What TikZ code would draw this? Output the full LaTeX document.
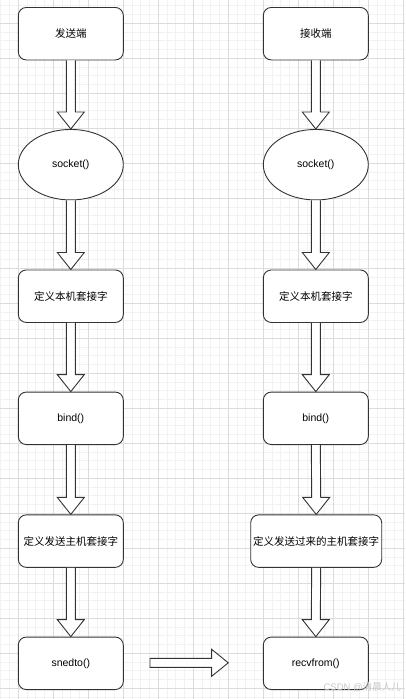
\documentclass[tikz,border=0pt]{standalone}
\usepackage{fontspec}
\setmainfont{Liberation Sans}
\newfontfamily\cjk{Noto Sans CJK SC}
\usetikzlibrary{calc,shapes.geometric}
\definecolor{lineclr}{HTML}{333333}
\definecolor{gridmajor}{HTML}{DCDCDC}
\definecolor{gridminor}{HTML}{F2F2F2}
\tikzset{
  box/.style={draw=lineclr, line width=0.9pt, rounded corners=8pt, fill=white,
    minimum width=105pt, minimum height=52.5pt, inner sep=0pt, align=center,
    font=\fontsize{10.5pt}{13pt}\selectfont},
  widebox/.style={box, minimum width=131pt},
  oval/.style={draw=lineclr, line width=0.9pt, ellipse, fill=white,
    minimum width=105pt, minimum height=70.5pt, inner sep=0pt,
    font=\fontsize{10.5pt}{13pt}\selectfont},
  blockarrow/.style={draw=lineclr, line width=0.9pt, fill=white, line join=miter},
  gmaj/.style={draw=gridmajor, line width=0.8pt},
  gmin/.style={draw=gridminor, line width=0.8pt}
}
\newcommand\varrow[2]{%
  \draw[blockarrow] ($(#1.south)+(-4.5,0)$) -- ($(#2.north)+(-4.5,-17)$) -- ($(#2.north)+(-13.5,-17)$) -- (#2.north) -- ($(#2.north)+(13.5,-17)$) -- ($(#2.north)+(4.5,-17)$) -- ($(#1.south)+(4.5,0)$);}
\begin{document}
\begin{tikzpicture}[x=1pt,y=-1pt]
\useasboundingbox (0,0) rectangle (405,699);
\fill[white] (0,0) rectangle (405,699);
% grid
\foreach \i in {-3,...,46} {\draw[gmin] ({18.3+8.75*\i},0) -- ({18.3+8.75*\i},699);}
\foreach \j in {-3,...,78} {\draw[gmin] (0,{23.3+8.75*\j}) -- (405,{23.3+8.75*\j});}
\foreach \i in {-1,...,11} {\draw[gmaj] ({18.3+35*\i},0) -- ({18.3+35*\i},699);}
\foreach \j in {-1,...,19} {\draw[gmaj] (0,{23.3+35*\j}) -- (405,{23.3+35*\j});}
% left column
\node[box] (s1) at (70.8,33.7) {\cjk 发送端};
\node[oval] (s2) at (70.8,164.7) {socket()};
\node[box] (s3) at (70.8,296.2) {\cjk 定义本机套接字};
\node[box] (s4) at (70.8,418.3) {bind()};
\node[box] (s5) at (70.8,541.1) {\cjk 定义发送主机套接字};
\node[box] (s6) at (70.8,663.3) {snedto()};
% right column
\node[box] (r1) at (315.8,33.7) {\cjk 接收端};
\node[oval] (r2) at (315.8,164.7) {socket()};
\node[box] (r3) at (315.8,296.2) {\cjk 定义本机套接字};
\node[box] (r4) at (315.8,418.3) {bind()};
\node[widebox] (r5) at (316.2,541.1) {\cjk 定义发送过来的主机套接字};
\node[box] (r6) at (315.8,663.3) {recvfrom()};
% vertical arrows
\varrow{s1}{s2}
\varrow{s2}{s3}
\varrow{s3}{s4}
\varrow{s4}{s5}
\varrow{s5}{s6}
\varrow{r1}{r2}
\varrow{r2}{r3}
\varrow{r3}{r4}
\varrow{r4}{r5}
\varrow{r5}{r6}
% horizontal arrow
\coordinate (hs) at (150,662.8);
\coordinate (he) at (228.3,662.8);
\draw[blockarrow] ($(hs)+(0,-4.5)$) -- ($(he)+(-16.7,-4.5)$) -- ($(he)+(-16.7,-13.5)$) -- (he) -- ($(he)+(-16.7,13.5)$) -- ($(he)+(-16.7,4.5)$) -- ($(hs)+(0,4.5)$) -- cycle;
% watermark
\node[text=black!22, font=\fontsize{9.5pt}{11pt}\selectfont, anchor=east, inner sep=0pt] (wm) at (401,687) {CSDN @{\cjk 清晨人儿}};
\end{tikzpicture}
\end{document}
